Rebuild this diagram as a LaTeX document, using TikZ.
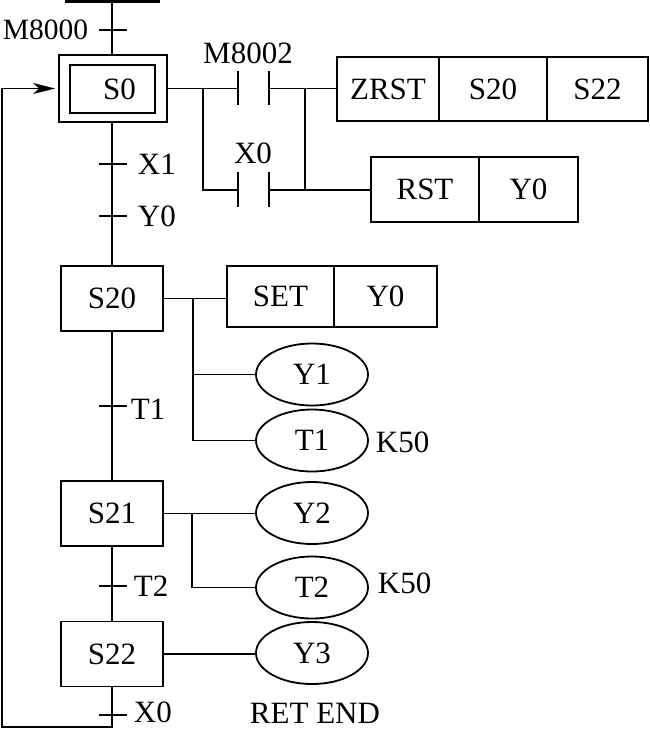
\documentclass[tikz,border=0pt]{standalone}
\usepackage{fontspec}
\setmainfont{Liberation Serif}
\usetikzlibrary{shapes.geometric,arrows.meta}
\begin{document}
\begin{tikzpicture}[x=1pt,y=-1pt,
 line width=1.8pt,
 every node/.style={font=\fontsize{31}{36}\selectfont},
 stepbox/.style={draw,minimum width=102pt,minimum height=65pt,inner sep=0pt},
 cell/.style={draw,minimum height=64pt,inner sep=0pt},
 coil/.style={draw,ellipse,minimum width=112pt,minimum height=62pt,inner sep=0pt},
 lbl/.style={inner sep=0pt},
 tick/.style={line width=1.8pt}]
\useasboundingbox (0,0) rectangle (649,729);

% top bar
\coordinate (barL) at (65,1.5);
\coordinate (barR) at (160,1.5);
\coordinate (top) at (112,1.5);
\draw[line width=3pt] (barL) -- (barR);

% initial step
\node[draw,minimum width=108pt,minimum height=67pt,inner sep=0pt] (S0o) at (113,88.5) {};
\node[draw,minimum width=85pt,minimum height=48pt,inner sep=0pt,text width=85pt,align=center] (S0) at (112.5,89) {\hspace*{14pt}S0};

% steps
\node[stepbox] (S20) at (112,298.5) {S20};
\node[stepbox] (S21) at (112,513.5) {S21};
\node[stepbox] (S22) at (112,654) {S22};

% instruction boxes
\node[cell,minimum width=102pt] (zrst) at (388,89) {ZRST};
\node[cell,minimum width=108pt] (zs20) at (493,89) {S20};
\node[cell,minimum width=101pt] (zs22) at (597.5,89) {S22};
\node[cell,minimum width=108pt,minimum height=65pt] (rst) at (425,189.5) {RST};
\node[cell,minimum width=99pt,minimum height=65pt] (rsty) at (528.5,189.5) {Y0};
\node[cell,minimum width=107pt,minimum height=61pt] (set) at (280.5,296.5) {SET};
\node[cell,minimum width=103pt,minimum height=61pt] (sety) at (385.5,296.5) {Y0};

% coils
\node[coil] (Y1) at (312,374.5) {Y1};
\node[coil] (T1) at (312,440.5) {T1};
\node[coil] (Y2) at (312,513) {Y2};
\node[coil] (T2) at (312,587.5) {T2};
\node[coil] (Y3) at (312,653) {Y3};

% labels
\node[lbl,anchor=east,font=\fontsize{29.5}{36}\selectfont] (lM8000) at (89,30) {M8000};
\node[lbl] (lM8002) at (248,53) {M8002};
\node[lbl] (lX0a) at (253,153) {X0};
\node[lbl,anchor=west] (lX1) at (137,164) {X1};
\node[lbl,anchor=west] (lY0) at (137,216) {Y0};
\node[lbl,anchor=west] (lT1) at (130,409) {T1};
\node[lbl,anchor=west] (lT2) at (133,586) {T2};
\node[lbl,anchor=west] (lX0b) at (133,712) {X0};
\node[lbl,anchor=west] (lK1) at (375,442) {K50};
\node[lbl,anchor=west] (lK2) at (377,583) {K50};
\node[lbl] (lret) at (315,713) {RET END};

% main vertical line with transition ticks
\draw (top) -- (S0o.north -| top);
\draw (S0o.south -| top) -- (S20.north);
\draw (S20.south) -- (S21.north);
\draw (S21.south) -- (S22.north);
\coordinate (bot) at (112,727);
\coordinate (botL) at (2,727);
\coordinate (retL) at (2,88.5);
\draw[-{Stealth[length=22pt,width=11pt,inset=6pt]},shorten >=3pt] (S22.south) -- (bot) -- (botL) -- (retL) -- (S0o.west);

\foreach \y in {30,164,216,406,586,715} {
  \draw[tick] (99,\y) -- (127,\y);
}

% M8002 / X0 contacts
\coordinate (j1) at (203,88.5);
\coordinate (j2) at (305,88.5);
\coordinate (c1a) at (238,88.5);
\coordinate (c1b) at (269,88.5);
\coordinate (c2a) at (238,190);
\coordinate (c2b) at (269,190);
\draw (S0o.east) -- (c1a);
\draw (c1b) -- (c1b -| zrst.west);
\draw (j1) |- (c2a);
\draw (c2b) -| (j2);
\draw (c2b -| j2) -- (c2b -| rst.west);
\draw (238,71) -- (238,105);
\draw (269,71) -- (269,105);
\draw (238,172) -- (238,207);
\draw (269,172) -- (269,207);

% S20 outputs
\coordinate (k1) at (193,298.5);
\draw (S20.east) -- (S20.east -| set.west);
\draw (k1) |- (T1.west);
\draw (k1 |- Y1.west) -- (Y1.west);

% S21 outputs
\coordinate (k2) at (192,513.5);
\draw (S21.east) -- (S21.east -| Y2.west);
\draw (k2) |- (T2.west);

% S22 output
\draw (S22.east) -- (S22.east -| Y3.west);
\end{tikzpicture}
\end{document}
